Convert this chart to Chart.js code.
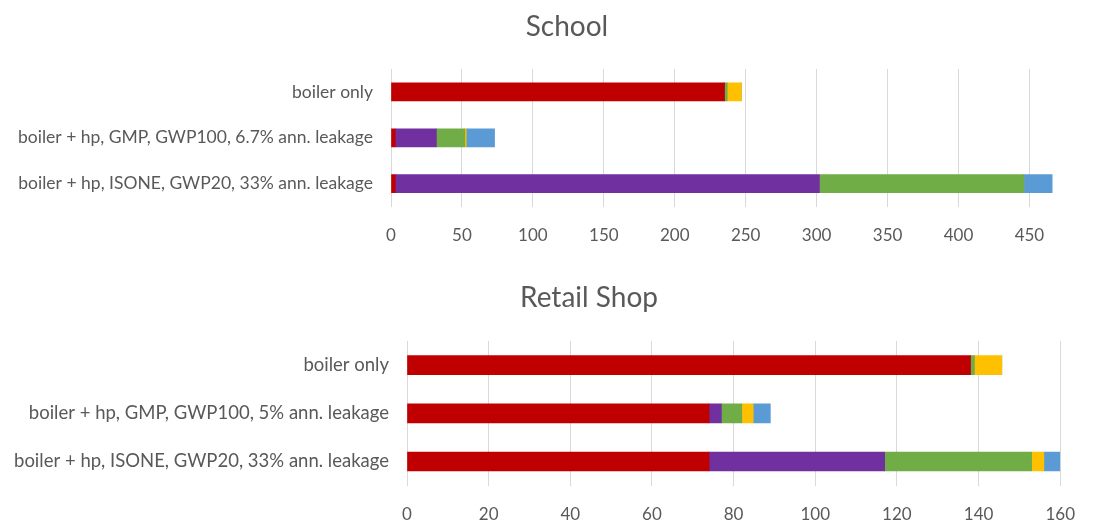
<!DOCTYPE html>
<html>
<head>
<meta charset="utf-8">
<script src="https://cdn.jsdelivr.net/npm/chart.js@4.4.1/dist/chart.umd.min.js"></script>
<style>
	html, body { margin: 0; padding: 0; background: #fff; overflow: hidden; width: 1094px; height: 525px; }
	.box { position: absolute; left: 0; width: 1094px; }
	#schoolBox { top: 0; height: 269px; }
	#retailBox { top: 250px; height: 296px; }
	.title {
		position: absolute; transform: translate(-50%, -50%); white-space: nowrap;
		font-family: Lato, "Open Sans", sans-serif; font-size: 28px; color: #595959;
	}
</style>
</head>
<body>
<div class="box" id="schoolBox"><canvas id="schoolChart"></canvas></div>
<div class="box" id="retailBox"><canvas id="retailChart"></canvas></div>
<div class="title" style="left:567px; top:25px;">School</div>
<div class="title" style="left:589px; top:296px;">Retail Shop</div>
<script>
const seriesNames = ['Series 1', 'Series 2', 'Series 3', 'Series 4', 'Series 5'];
const seriesColors = ['#C00000', '#7030A0', '#70AD47', '#FFC000', '#5B9BD5'];

const schoolLabels = [
	'boiler only',
	'boiler + hp, GMP, GWP100, 6.7% ann. leakage',
	'boiler + hp, ISONE, GWP20, 33% ann. leakage',
];
const schoolTicks = [0, 50, 100, 150, 200, 250, 300, 350, 400, 450];
const schoolRed = [235, 3, 3];
const schoolPurple = [0, 29, 299];
const schoolGreen = [2, 20, 144];
const schoolYellow = [10, 1, 0];
const schoolBlue = [0, 20, 20];

const retailLabels = [
	'boiler only',
	'boiler + hp, GMP, GWP100, 5% ann. leakage',
	'boiler + hp, ISONE, GWP20, 33% ann. leakage',
];
const retailTicks = [0, 20, 40, 60, 80, 100, 120, 140, 160];
const retailRed = [138, 74, 74];
const retailPurple = [0, 3, 43];
const retailGreen = [1, 5, 36];
const retailYellow = [6.7, 2.8, 3];
const retailBlue = [0, 4.2, 4];

const textColor = '#595959';
const font = 'Lato, "Open Sans", sans-serif';

function makeChart(el, labels, series, ticks, opts) {
	return new Chart(el, {
		type: 'bar',
		data: {
			labels: labels,
			datasets: series.map((data, i) => ({
				label: seriesNames[i],
				data: data,
				backgroundColor: seriesColors[i],
				barThickness: opts.barThickness,
			})),
		},
		options: {
			indexAxis: 'y',
			responsive: true,
			maintainAspectRatio: false,
			animation: false,
			layout: { padding: { left: 0, top: opts.top, right: opts.right, bottom: opts.bottom } },
			plugins: {
				legend: { display: false },
				tooltip: { enabled: false },
			},
			scales: {
				x: {
					stacked: true,
					min: 0,
					max: opts.max,
					ticks: { autoSkip: false, color: textColor, font: { family: font, size: 17 }, padding: opts.tickPad, maxRotation: 0 },
					afterBuildTicks: axis => {
						axis.ticks = ticks.map(v => ({ value: v }));
					},
					grid: { color: '#d9d9d9', drawTicks: false },
					border: { display: false },
				},
				y: {
					stacked: true,
					ticks: { color: textColor, font: { family: font, size: opts.labelSize }, padding: 18 },
					grid: { display: false, drawTicks: false },
					border: { display: false },
					afterFit: scale => { scale.width = opts.left; },
				},
			},
		},
	});
}

makeChart(document.querySelector('#schoolChart'), schoolLabels,
	[schoolRed, schoolPurple, schoolGreen, schoolYellow, schoolBlue], schoolTicks,
	{ max: 480, left: 391, top: 69, right: 22, bottom: 4, barThickness: 18, labelSize: 17.5, tickPad: 19 });

makeChart(document.querySelector('#retailChart'), retailLabels,
	[retailRed, retailPurple, retailGreen, retailYellow, retailBlue], retailTicks,
	{ max: 160, left: 407, top: 91, right: 27, bottom: 2, barThickness: 19, labelSize: 18.5, tickPad: 19 });
</script>
</body>
</html>
